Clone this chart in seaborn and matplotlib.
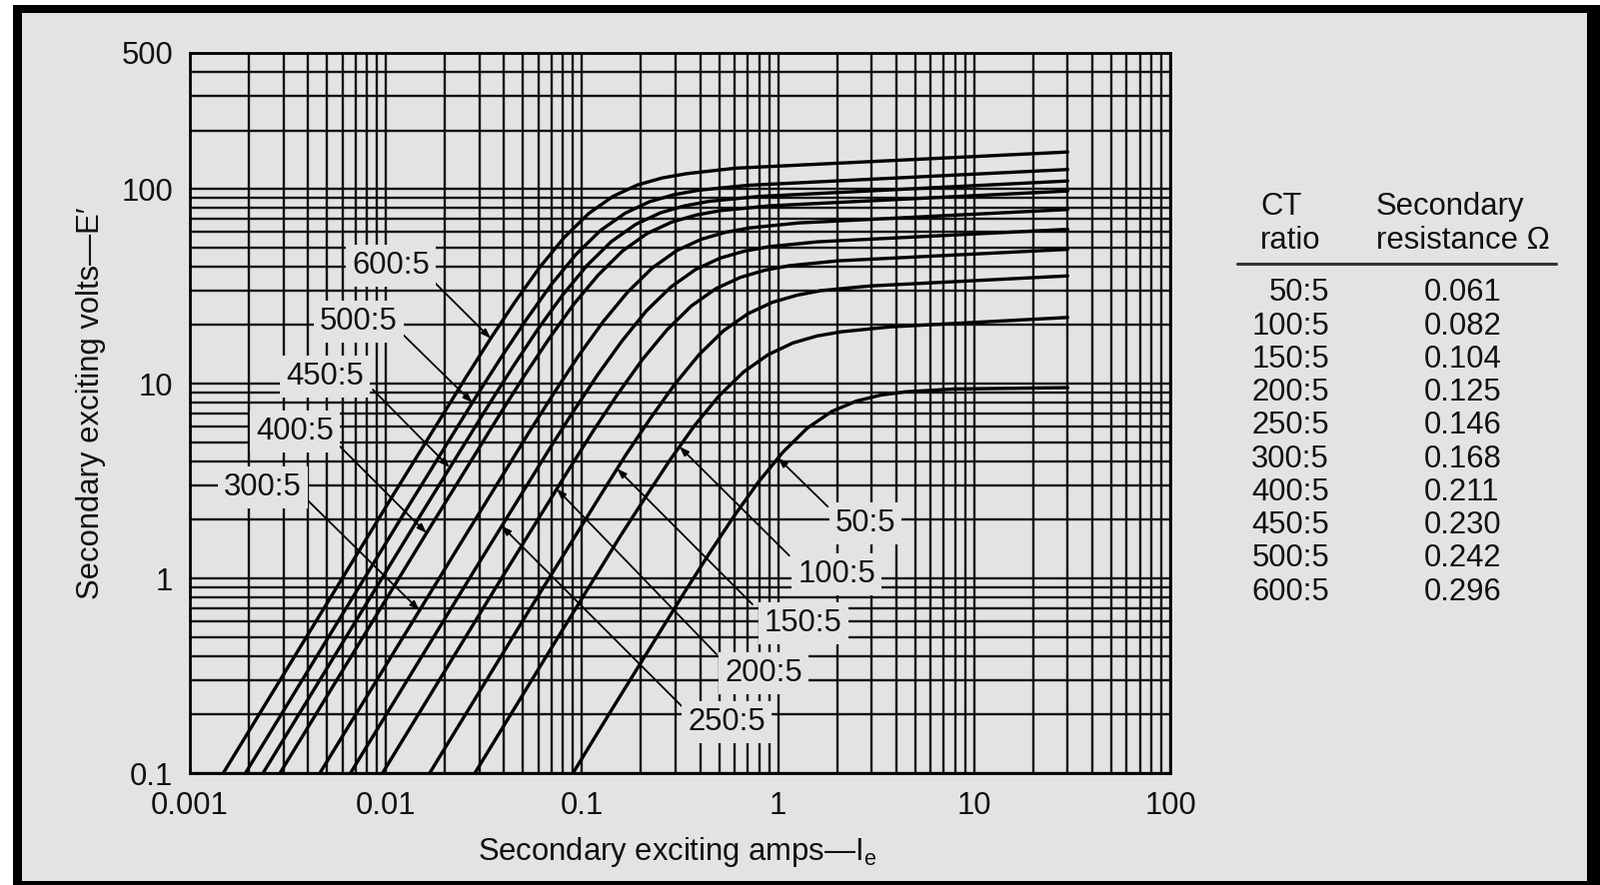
import pandas as pd
import numpy as np
import matplotlib
matplotlib.use("Agg")
import matplotlib.pyplot as plt
import seaborn as sns
from matplotlib.patches import Rectangle
from matplotlib.lines import Line2D
from matplotlib.ticker import FixedLocator, FuncFormatter, NullFormatter, LogLocator

# ==========================================
# DATA
# ==========================================
ratios = ["600:5", "500:5", "450:5", "400:5", "300:5",
          "250:5", "200:5", "150:5", "100:5", "50:5"]

amps_600 = [0.00148, 0.0108, 0.0256, 0.0342, 0.0456, 0.0608, 0.0811, 0.108, 0.144, 0.192, 0.256, 0.342, 0.608, 30]
volts_600 = [0.1, 2.65, 10.8, 17.1, 26.4, 39.6, 56.4, 74.8, 91.8, 105, 114, 120, 128, 155]

amps_500 = [0.00192, 0.0124, 0.0294, 0.0393, 0.0524, 0.0698, 0.0931, 0.124, 0.166, 0.221, 0.294, 0.393, 0.698, 30]
volts_500 = [0.1, 2.17, 8.87, 14.0, 21.6, 32.4, 46.1, 61.2, 75.2, 86.1, 93.5, 98.6, 104.5, 126]

amps_450 = [0.00236, 0.0141, 0.0334, 0.0446, 0.0594, 0.0793, 0.106, 0.141, 0.188, 0.251, 0.334, 0.446, 0.793, 30]
volts_450 = [0.1, 1.91, 7.78, 12.3, 19.0, 28.4, 40.5, 53.7, 65.9, 75.5, 82.0, 86.5, 91.6, 110]

amps_400 = [0.00288, 0.0161, 0.0381, 0.0508, 0.0678, 0.0904, 0.121, 0.161, 0.214, 0.286, 0.381, 0.508, 0.904, 30]
volts_400 = [0.1, 1.71, 6.97, 11.0, 17.0, 25.5, 36.2, 48.1, 59.0, 67.6, 73.5, 77.5, 82.0, 97.7]

amps_300 = [0.0046, 0.0228, 0.054, 0.0719, 0.0959, 0.128, 0.171, 0.228, 0.303, 0.405, 0.540, 0.719, 1.28, 30]
volts_300 = [0.1, 1.39, 5.69, 8.95, 13.9, 20.8, 29.6, 39.3, 48.2, 55.2, 60.0, 63.2, 67.0, 78.5]

amps_250 = [0.00659, 0.0284, 0.0675, 0.0899, 0.120, 0.160, 0.213, 0.284, 0.379, 0.506, 0.675, 0.899, 1.60, 30]
volts_250 = [0.1, 1.11, 4.55, 7.16, 11.1, 16.6, 23.7, 31.4, 38.6, 44.2, 48.0, 50.6, 53.6, 62.1]

amps_200 = [0.0096, 0.0361, 0.0857, 0.114, 0.152, 0.203, 0.271, 0.361, 0.482, 0.643, 0.857, 1.14, 2.03, 30]
volts_200 = [0.1, 0.889, 3.63, 5.72, 8.85, 13.3, 18.9, 25.1, 30.8, 35.2, 38.3, 40.4, 42.8, 49.0]

amps_150 = [0.0167, 0.0526, 0.125, 0.166, 0.222, 0.296, 0.395, 0.526, 0.702, 0.935, 1.25, 1.66, 2.96, 30]
volts_150 = [0.1, 0.662, 2.70, 4.26, 6.59, 9.89, 14.1, 18.7, 22.9, 26.2, 28.5, 30.1, 31.8, 35.8]

amps_100 = [0.0284, 0.0667, 0.158, 0.211, 0.281, 0.375, 0.500, 0.667, 0.889, 1.19, 1.58, 2.11, 3.75, 30]
volts_100 = [0.1, 0.408, 1.67, 2.62, 4.06, 6.10, 8.67, 11.5, 14.1, 16.2, 17.6, 18.5, 19.6, 21.9]

amps_50 = [0.0899, 0.141, 0.335, 0.447, 0.596, 0.794, 1.06, 1.41, 1.88, 2.51, 3.35, 4.47, 7.94, 30]
volts_50 = [0.1, 0.210, 0.857, 1.35, 2.09, 3.13, 4.46, 5.92, 7.21, 8.15, 8.75, 9.09, 9.40, 9.55]

# callout labels: text centre, arrow tail, arrow tip (on the curve)
label_pos = [(0.01057, 40.4), (0.00726, 20.8), (0.00487, 10.9), (0.00343, 5.69), (0.00236, 2.93),
             (0.546, 0.183), (0.843, 0.326), (1.347, 0.589), (1.985, 1.05), (2.79, 1.92)]
arrow_tail = [(0.0169, 34.7), (0.0122, 17.9), (0.00857, 9.33), (0.00582, 4.77), (0.00394, 2.55),
              (0.322, 0.221), (0.485, 0.408), (0.740, 0.736), (1.14, 1.31), (1.79, 2.34)]
arrow_tip = [(0.0342, 17.1), (0.0276, 8.0), (0.0211, 3.72), (0.0161, 1.71), (0.0148, 0.687),
             (0.0389, 1.86), (0.0743, 2.88), (0.151, 3.66), (0.314, 4.75), (1.0, 4.15)]

# table on the right
table_ratios = ["50:5", "100:5", "150:5", "200:5", "250:5",
                "300:5", "400:5", "450:5", "500:5", "600:5"]
table_resist = ["0.061", "0.082", "0.104", "0.125", "0.146",
                "0.168", "0.211", "0.230", "0.242", "0.296"]

x_ticks = [0.001, 0.01, 0.1, 1, 10, 100]
y_ticks = [0.1, 1, 10, 100, 500]

all_amps = [amps_600, amps_500, amps_450, amps_400, amps_300,
            amps_250, amps_200, amps_150, amps_100, amps_50]
all_volts = [volts_600, volts_500, volts_450, volts_400, volts_300,
             volts_250, volts_200, volts_150, volts_100, volts_50]

frames = []
for r, a, v in zip(ratios, all_amps, all_volts):
    frames.append(pd.DataFrame({"ratio": r, "amps": a, "volts": v}))
curves = pd.concat(frames, ignore_index=True)

# ==========================================
# STYLE
# ==========================================
sns.set_style("white")
plt.rcParams["font.family"] = ["Liberation Sans", "DejaVu Sans"]
plt.rcParams["mathtext.fontset"] = "custom"
plt.rcParams["mathtext.rm"] = "Liberation Sans"

bg = "#e3e3e3"
W, H = 1601, 886
fs = 22.3

fig = plt.figure(figsize=(W / 100, H / 100), dpi=100, facecolor="white")


def box(x0, y0, x1, y1, color, z):
    # pixel box (top-left origin) -> figure fraction rectangle
    r = Rectangle((x0 / W, 1 - y1 / H), (x1 - x0) / W, (y1 - y0) / H,
                  transform=fig.transFigure, facecolor=color, edgecolor="none", zorder=z)
    fig.add_artist(r)


box(13, 5, W, H, "black", -20)
box(22, 13, 1588, 882, bg, -19)

ax = fig.add_axes([190 / W, 1 - 774 / H, (1171 - 190) / W, (774 - 53) / H])
ax.set_facecolor(bg)
ax.set_xscale("log")
ax.set_yscale("log")

sns.lineplot(data=curves, x="amps", y="volts", units="ratio", estimator=None,
             sort=False, color="black", linewidth=2.4, legend=False, ax=ax, zorder=3)

ax.set_xlim(0.001, 100)
ax.set_ylim(0.1, 500)

ax.xaxis.set_major_locator(FixedLocator(x_ticks))
ax.yaxis.set_major_locator(FixedLocator(y_ticks))
ax.xaxis.set_minor_locator(LogLocator(base=10, subs=np.arange(2, 10)))
ax.yaxis.set_minor_locator(LogLocator(base=10, subs=np.arange(2, 10)))
fmt = FuncFormatter(lambda v, p: f"{v:g}")
ax.xaxis.set_major_formatter(fmt)
ax.yaxis.set_major_formatter(fmt)
ax.xaxis.set_minor_formatter(NullFormatter())
ax.yaxis.set_minor_formatter(NullFormatter())
ax.tick_params(axis="both", which="both", length=0, labelsize=fs, colors="#111111")
ax.tick_params(axis="x", pad=13)
ax.tick_params(axis="y", pad=12)

ax.grid(True, which="both", color="#111111", linewidth=1.7)
ax.set_axisbelow(True)
for s in ax.spines.values():
    s.set_color("black")
    s.set_linewidth(2)

ax.set_xlabel(r"Secondary exciting amps—I$_\mathregular{e}$", fontsize=fs, color="#111111")
ax.set_ylabel("Secondary exciting volts—E\u2032", fontsize=fs, color="#111111")
ax.xaxis.set_label_coords(0.4975, -0.086)
ax.yaxis.set_label_coords(-0.086, 0.514)

# callouts
for lab, pos, tail, tip in zip(ratios, label_pos, arrow_tail, arrow_tip):
    ax.annotate("", xy=tip, xytext=tail,
                arrowprops=dict(arrowstyle="-|>,head_length=0.55,head_width=0.2",
                                color="black", lw=1.3, shrinkA=0, shrinkB=0),
                zorder=4)
    ax.text(pos[0], pos[1], lab, ha="center", va="center", fontsize=fs, color="#111111",
            bbox=dict(boxstyle="square,pad=0.2", facecolor=bg, edgecolor="none"), zorder=6)

# table
def ft(x, y, s, **kw):
    fig.text(x / W, 1 - y / H, s, fontsize=fs, color="#111111", va="center", **kw)


ft(1261, 207, "CT", ha="left")
ft(1261, 241, "ratio", ha="left")
ft(1377, 207, "Secondary", ha="left")
ft(1377, 241, "resistance \u03a9", ha="left")
fig.add_artist(Line2D([1238 / W, 1557 / W], [1 - 264 / H, 1 - 264 / H],
                      transform=fig.transFigure, color="#333333", linewidth=2.2))
for i, (r, v) in enumerate(zip(table_ratios, table_resist)):
    y = 293.3 + 33.26 * i
    ft(1330, y, r, ha="right")
    ft(1425, y, v, ha="left")

fig.savefig("out.png", dpi=100, facecolor=fig.get_facecolor())
